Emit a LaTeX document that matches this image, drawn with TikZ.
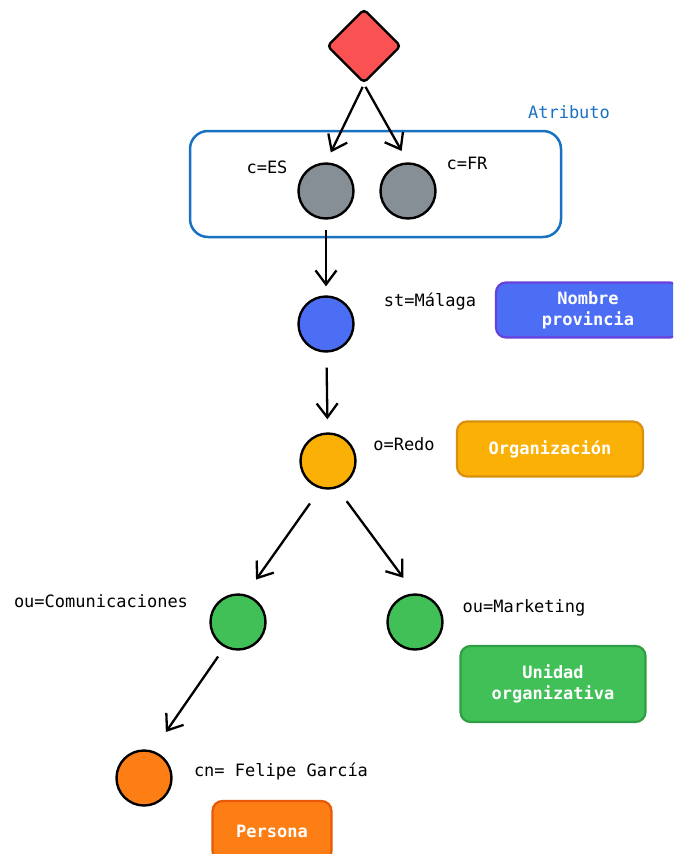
\documentclass[tikz,border=0pt]{standalone}
\usepackage{fontspec}
\setmonofont{DejaVu Sans Mono}
\usetikzlibrary{shapes.geometric, arrows.meta}

% colores de las entradas
\definecolor{rojo}{HTML}{FA5252}
\definecolor{gris}{HTML}{868E96}
\definecolor{azul}{HTML}{4C6EF5}
\definecolor{morado}{HTML}{6741D9}
\definecolor{amarillo}{HTML}{FAB005}
\definecolor{ocre}{HTML}{D9900F}
\definecolor{verde}{HTML}{40C057}
\definecolor{verdeosc}{HTML}{2F9E44}
\definecolor{naranja}{HTML}{FD7E14}
\definecolor{naranjaosc}{HTML}{E8590C}
\definecolor{azulattr}{HTML}{1971C2}

\tikzset{
    entrada/.style={circle, draw=black, line width=2.4pt, minimum size=55pt, inner sep=0pt},
    etiqueta/.style={font=\ttfamily\fontsize{17}{20}\selectfont, text=black},
    tipo/.style={rounded corners=10pt, line width=2.2pt, text=white, align=center,
        font=\ttfamily\bfseries\fontsize{17}{21}\selectfont},
    flecha/.style={-{Straight Barb[length=14pt, width=21pt]}, line width=2.3pt},
}

\begin{document}
\begin{tikzpicture}[x=1pt, y=-1pt]
    \clip (0,0) rectangle (673,854);

    % raiz del arbol
    \node[diamond, draw=black, fill=rojo, line width=2.4pt, rounded corners=4pt,
        minimum size=74pt, inner sep=0pt] (raiz) at (364,46) {};

    % paises dentro del atributo
    \draw[azulattr, line width=2.5pt, rounded corners=18pt] (190,131) rectangle (561,237);
    \node[etiqueta, text=azulattr] (atributo) at (569,112) {Atributo};
    \node[entrada, fill=gris] (es) at (326,191) {};
    \node[entrada, fill=gris] (fr) at (408,191) {};
    \node[etiqueta] (lbl-es) at (267,167) {c=ES};
    \node[etiqueta] (lbl-fr) at (467,163) {c=FR};

    % provincia
    \node[entrada, fill=azul] (st) at (326,324) {};
    \node[etiqueta] (lbl-st) at (430,302) {st=Málaga};
    \node[tipo, draw=morado, fill=azul, minimum width=184pt, minimum height=55pt]
        (provincia) at (588,310) {Nombre\\ provincia};

    % organizacion
    \node[entrada, fill=amarillo] (redo) at (328,461) {};
    \node[etiqueta] (lbl-redo) at (404,444) {o=Redo};
    \node[tipo, draw=ocre, fill=amarillo, minimum width=186pt, minimum height=55pt]
        (organizacion) at (550,449) {Organización};

    % unidades organizativas
    \node[entrada, fill=verde] (com) at (238,622) {};
    \node[entrada, fill=verde] (mkt) at (415,622) {};
    \node[etiqueta] (lbl-com) at (101,601) {ou=Comunicaciones};
    \node[etiqueta] (lbl-mkt) at (524,608) {ou=Marketing};
    \node[tipo, draw=verdeosc, fill=verde, minimum width=185pt, minimum height=76pt]
        (unidad) at (553,684) {Unidad\\ organizativa};

    % persona
    \node[entrada, fill=naranja] (cn) at (144,778) {};
    \node[etiqueta] (lbl-cn) at (281,771) {cn= Felipe García};
    \node[tipo, draw=naranjaosc, fill=naranja, minimum width=119pt, minimum height=60pt]
        (persona) at (272,831) {Persona};

    % flechas
    \draw[flecha, shorten <=3pt, shorten >=11pt] (raiz.south) -- (es.north);
    \draw[flecha, shorten <=3pt, shorten >=13pt] (raiz.south) -- (fr.north);
    \draw[flecha, shorten <=10pt, shorten >=9pt] (es) -- (st);
    \draw[flecha, shorten <=15pt, shorten >=13pt] (st) -- (redo);
    \draw[flecha, shorten <=52pt, shorten >=52pt]
        ([xshift=12pt]redo.center) -- ([xshift=-12pt]com.center);
    \draw[flecha, shorten <=50pt, shorten >=55pt]
        ([xshift=-11pt]redo.center) -- ([xshift=21pt]mkt.center);
    \draw[flecha, shorten <=42pt, shorten >=56pt]
        ([xshift=4pt]com.center) -- ([xshift=-10pt]cn.center);
\end{tikzpicture}
\end{document}
